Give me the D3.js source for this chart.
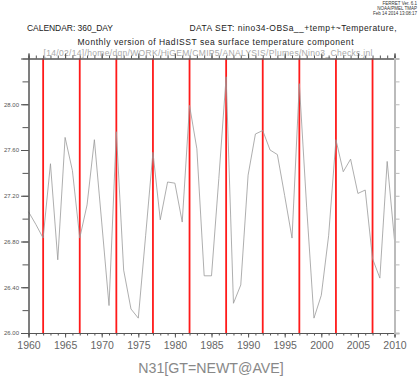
<!DOCTYPE html>
<html>
<head>
<meta charset="utf-8">
<script src="https://cdn.jsdelivr.net/npm/d3@7"></script>
<style>
body { margin: 0; background: #fff; }
svg { display: block; }
text { font-family: "Liberation Sans", Arial, sans-serif; }
</style>
</head>
<body>
<svg width="419" height="377"></svg>
<script>
// annual series (1960..2010)
var years = d3.range(1960, 2011);
var sst = [27.06, 26.95, 26.83, 27.48, 26.64, 27.71, 27.42, 26.83, 27.12, 27.69,
	26.97, 26.24, 27.76, 26.55, 26.21, 26.13, 26.85, 27.58, 26.99, 27.32,
	27.31, 26.97, 27.99, 27.61, 26.50, 26.50, 27.35, 28.24, 26.26, 26.42,
	27.38, 27.74, 27.77, 27.60, 27.56, 27.20, 26.83, 28.18, 27.10, 26.13,
	26.33, 26.85, 27.69, 27.41, 27.52, 27.22, 27.25, 26.65, 26.48, 27.50, 26.81];
var markYears = [1962, 1967, 1972, 1977, 1982, 1987, 1992, 1997, 2002, 2007];
var xLabels = [1960, 1965, 1970, 1975, 1980, 1985, 1990, 1995, 2000, 2005, 2010];
var yMinor = [26.0, 26.2, 26.4, 26.6, 26.8, 27.0, 27.2, 27.4, 27.6, 27.8, 28.0, 28.2];
var yLabels = [26.0, 26.4, 26.8, 27.2, 27.6, 28.0];

var svg = d3.select("svg");
var pLeft = 28.5, pRight = 394.5, pTop = 58.5, pBottom = 333;

var x = d3.scaleLinear().domain([1960, 2010]).range([pLeft, pRight]);
var y = d3.scaleLinear().domain([26, 28.4]).range([pBottom, pTop]);

var axisCol = "#555";

// header texts
svg.append("text").attr("x", 417).attr("y", 4.5).attr("text-anchor", "end")
	.attr("font-size", 4.5).attr("fill", "#333").text("FERRET Ver. 6.1");
svg.append("text").attr("x", 417).attr("y", 9.5).attr("text-anchor", "end")
	.attr("font-size", 4.5).attr("fill", "#333").text("NOAA/PMEL TMAP");
svg.append("text").attr("x", 417).attr("y", 14.5).attr("text-anchor", "end")
	.attr("font-size", 4.5).attr("fill", "#333").text("Feb 14 2014 13:08:17");

svg.append("text").attr("x", 27).attr("y", 31).attr("font-size", 8.5).attr("fill", "#222")
	.attr("textLength", 86).text("CALENDAR: 360_DAY");
svg.append("text").attr("x", 189.5).attr("y", 31).attr("font-size", 8.5).attr("fill", "#222")
	.attr("textLength", 207).text("DATA SET: nino34-OBSa__+temp+~Temperature,");
svg.append("text").attr("x", 77.5).attr("y", 44.5).attr("font-size", 8.5).attr("fill", "#222")
	.attr("textLength", 276).text("Monthly version of HadISST sea surface temperature component");
svg.append("text").attr("x", 43.5).attr("y", 55.5).attr("font-size", 8.5).attr("fill", "#aaa")
	.attr("textLength", 329).text("[14/02/14]/home/dqn/WORK/HiGEM/CMIP5/ANALYSIS/Plumes/Nino3_Checks.jnl");

// red reference lines
svg.append("g").selectAll("line")
	.data(markYears)
	.enter().append("line")
		.attr("x1", function(d) { return x(d); })
		.attr("x2", function(d) { return x(d); })
		.attr("y1", pTop)
		.attr("y2", pBottom)
		.attr("stroke", "#ff1a1a")
		.attr("stroke-width", 1.8);

// data line
var line = d3.line()
	.x(function(d, i) { return x(years[i]); })
	.y(function(d) { return y(d); });
svg.append("path")
	.datum(sst)
	.attr("d", line)
	.attr("fill", "none")
	.attr("stroke", "#999")
	.attr("stroke-width", 0.8);

function styleAxis(g, col, w) {
	g.select(".domain").attr("stroke", col).attr("stroke-width", w);
	g.selectAll(".tick line").attr("stroke", col);
}

// bottom axis: minor then major with labels
var gbMinor = svg.append("g").attr("transform", "translate(0," + pBottom + ")")
	.call(d3.axisBottom(x).tickValues(years).tickSize(2.5).tickFormat(""));
styleAxis(gbMinor, axisCol, 1);
var gb = svg.append("g").attr("transform", "translate(0," + pBottom + ")")
	.call(d3.axisBottom(x).tickValues(xLabels).tickSize(4.5).tickPadding(4).tickFormat(d3.format("d")));
styleAxis(gb, axisCol, 1);
gb.selectAll(".tick text").attr("font-size", 10.5).attr("fill", "#666")
	.attr("font-family", "Liberation Sans, Arial, sans-serif");

// top axis
var gtMinor = svg.append("g").attr("transform", "translate(0," + pTop + ")")
	.call(d3.axisTop(x).tickValues(years).tickSize(3).tickFormat(""));
styleAxis(gtMinor, axisCol, 1);
var gt = svg.append("g").attr("transform", "translate(0," + pTop + ")")
	.call(d3.axisTop(x).tickValues(xLabels).tickSize(5).tickFormat(""));
styleAxis(gt, axisCol, 1);

// left axis
var glMinor = svg.append("g").attr("transform", "translate(" + pLeft + ",0)")
	.call(d3.axisLeft(y).tickValues(yMinor).tickSize(6).tickFormat(""));
styleAxis(glMinor, axisCol, 1);
var gl = svg.append("g").attr("transform", "translate(" + pLeft + ",0)")
	.call(d3.axisLeft(y).tickValues(yLabels).tickSize(7.5).tickPadding(2).tickFormat(d3.format(".2f")));
styleAxis(gl, axisCol, 1);
gl.selectAll(".tick text").attr("font-size", 6).attr("fill", "#555")
	.attr("font-family", "Liberation Sans, Arial, sans-serif");

// right axis
var gr = svg.append("g").attr("transform", "translate(" + pRight + ",0)")
	.call(d3.axisRight(y).tickValues(yMinor).tickSize(5).tickFormat(""));
styleAxis(gr, "#bbb", 2);

// variable label
svg.append("text").attr("x", 211).attr("y", 373).attr("text-anchor", "middle")
	.attr("font-family", "Liberation Serif, Times New Roman, serif")
	.attr("font-size", 14.2).attr("fill", "#888").text("N31[GT=NEWT@AVE]");
</script>
</body>
</html>
